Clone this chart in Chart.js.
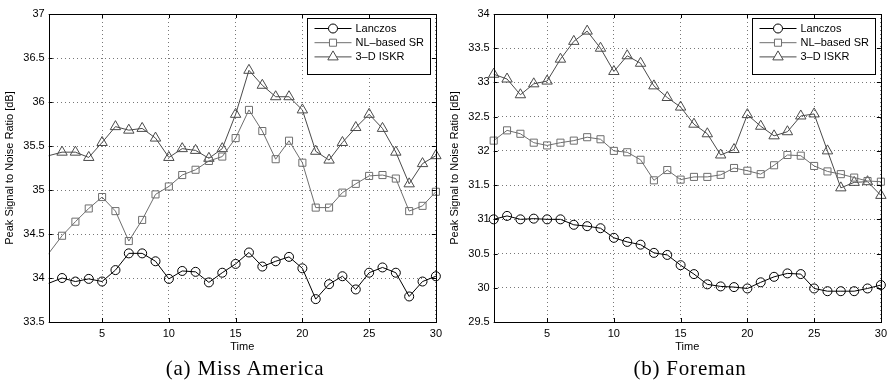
<!DOCTYPE html>
<html>
<head>
<meta charset="utf-8">
<title>PSNR over time</title>
<script src="https://cdn.jsdelivr.net/npm/chart.js@4/dist/chart.umd.min.js"></script>
<style>
  html, body { margin: 0; padding: 0; background: #fff; }
  body { width: 894px; height: 381px; position: relative; overflow: hidden; }
  canvas { position: absolute; top: 0; }
  .caption {
    position: absolute; top: 355px; height: 26px; line-height: 26px;
    text-align: center; font-family: "Liberation Serif", serif;
    font-size: 21px; letter-spacing: 0.8px; color: #000;
  }
</style>
</head>
<body>
<canvas id="chart-miss-america" width="447" height="358" style="left:0"></canvas>
<canvas id="chart-foreman" width="447" height="358" style="left:445px"></canvas>
<div class="caption" style="left:0;width:490px">(a) Miss America</div>
<div class="caption" style="left:490px;width:400px">(b) Foreman</div>

<script>
// x values (frame index)
const timeA = [0, 2, 3, 4, 5, 6, 7, 8, 9, 10, 11, 12, 13, 14, 15, 16, 17, 18, 19, 20, 21, 22, 23, 24, 25, 26, 27, 28, 29, 30];
const timeB = [1, 2, 3, 4, 5, 6, 7, 8, 9, 10, 11, 12, 13, 14, 15, 16, 17, 18, 19, 20, 21, 22, 23, 24, 25, 26, 27, 28, 29, 30];

const xTicks = [5, 10, 15, 20, 25, 30];
const yTicksA = [33.5, 34, 34.5, 35, 35.5, 36, 36.5, 37];
const yTicksB = [29.5, 30, 30.5, 31, 31.5, 32, 32.5, 33, 33.5, 34];

const seriesLabels = ['Lanczos', 'NL\u2013based SR', '3\u2013D ISKR'];

// (a) Miss America
const lanczosA = [33.88, 34.00, 33.96, 33.99, 33.96, 34.09, 34.28, 34.28, 34.19, 33.99, 34.08, 34.07, 33.95, 34.06, 34.16,
  34.29, 34.13, 34.19, 34.24, 34.11, 33.76, 33.93, 34.02, 33.87, 34.06, 34.12, 34.06, 33.79, 33.96, 34.02];
const nlA = [34.08, 34.48, 34.64, 34.79, 34.92, 34.76, 34.42, 34.66, 34.95, 35.04, 35.17, 35.23, 35.33, 35.38, 35.59,
  35.91, 35.67, 35.35, 35.56, 35.31, 34.80, 34.80, 34.97, 35.07, 35.16, 35.17, 35.13, 34.76, 34.82, 34.98];
const iskrA = [35.35, 35.43, 35.43, 35.37, 35.54, 35.72, 35.68, 35.70, 35.59, 35.37, 35.47, 35.45, 35.36, 35.47, 35.86,
  36.36, 36.19, 36.06, 36.06, 35.91, 35.44, 35.34, 35.54, 35.71, 35.86, 35.70, 35.43, 35.07, 35.30, 35.39];

// (b) Foreman
const lanczosB = [31.00, 31.05, 31.00, 31.01, 31.00, 31.00, 30.92, 30.90, 30.87, 30.73, 30.67, 30.63, 30.51, 30.48, 30.33,
  30.20, 30.05, 30.02, 30.01, 29.99, 30.08, 30.16, 30.21, 30.20, 29.99, 29.95, 29.95, 29.95, 29.99, 30.04];
const nlB = [32.15, 32.30, 32.25, 32.12, 32.08, 32.12, 32.15, 32.20, 32.17, 32.00, 31.98, 31.87, 31.57, 31.72, 31.58,
  31.62, 31.62, 31.65, 31.75, 31.71, 31.66, 31.79, 31.94, 31.93, 31.78, 31.70, 31.66, 31.61, 31.56, 31.55];
const iskrB = [33.12, 33.05, 32.82, 32.98, 33.02, 33.34, 33.60, 33.75, 33.50, 33.16, 33.39, 33.28, 32.95, 32.78, 32.64,
  32.39, 32.25, 31.94, 32.02, 32.53, 32.36, 32.22, 32.28, 32.51, 32.54, 32.00, 31.46, 31.54, 31.55, 31.35];

const FONT = '"Liberation Sans", Arial, sans-serif';
const styles = [
  { color: '#000000', pointStyle: 'circle', radius: 4.5 },
  { color: '#6e6e6e', pointStyle: 'rect', radius: 5 },
  { color: '#4a4a4a', pointStyle: 'triangle', radius: 6 },
];

function toPoints(xs, ys) {
  return xs.map((x, i) => ({ x, y: ys[i] }));
}

// box around the axes, inward ticks and legend in the upper-right corner
const frameLegend = {
  id: 'frameLegend',
  afterDraw(chart) {
    const { ctx, chartArea: a, scales } = chart;
    const line = (x1, y1, x2, y2) => { ctx.beginPath(); ctx.moveTo(x1, y1); ctx.lineTo(x2, y2); ctx.stroke(); };
    ctx.save();
    ctx.strokeStyle = '#000';
    ctx.lineWidth = 1;
    xTicks.forEach((v) => {
      const px = Math.round(scales.x.getPixelForValue(v)) + 0.5;
      line(px, a.bottom, px, a.bottom - 4);
      line(px, a.top, px, a.top + 4);
    });
    scales.y.ticks.forEach((t) => {
      const py = Math.round(scales.y.getPixelForValue(t.value)) + 0.5;
      line(a.left, py, a.left + 4, py);
      line(a.right, py, a.right - 4, py);
    });
    ctx.strokeRect(Math.round(a.left) + 0.5, Math.round(a.top) + 0.5,
      Math.round(a.right - a.left), Math.round(a.bottom - a.top));

    const w = 123, h = 56;
    const bx = Math.round(a.right - 6 - w) + 0.5;
    const by = Math.round(a.top + 4) + 0.5;
    ctx.fillStyle = '#fff';
    ctx.fillRect(bx, by, w, h);
    ctx.strokeRect(bx, by, w, h);
    ctx.font = '11px ' + FONT;
    ctx.textBaseline = 'middle';
    chart.data.datasets.forEach((ds, i) => {
      const y = by + 10 + i * 14.2;
      ctx.strokeStyle = ds.borderColor;
      line(bx + 7, y, bx + 44, y);
      ctx.fillStyle = '#fff';
      Chart.helpers.drawPoint(ctx, { pointStyle: ds.pointStyle, radius: ds.pointRadius, rotation: 0, borderWidth: 1 }, bx + 25.5, y);
      ctx.fillStyle = '#000';
      ctx.fillText(ds.label, bx + 48, y + 0.5);
    });
    ctx.restore();
  },
};

function makeChart(canvasId, xs, seriesValues, yTicks, clip) {
  const datasets = seriesValues.map((vals, i) => ({
    label: seriesLabels[i],
    data: toPoints(xs, vals),
    borderColor: styles[i].color,
    pointBorderColor: styles[i].color,
    pointBackgroundColor: 'rgba(0,0,0,0)',
    pointStyle: styles[i].pointStyle,
    pointRadius: styles[i].radius,
    pointBorderWidth: 1,
    borderWidth: 1,
    tension: 0,
    fill: false,
    clip,
  }));

  const gridOpts = { color: '#777', drawTicks: false, lineWidth: 1 };

  return new Chart(document.getElementById(canvasId), {
    type: 'line',
    data: { datasets },
    options: {
      responsive: false,
      animation: false,
      events: [],
      layout: { padding: { top: 14, right: 6.3, left: 0, bottom: 0 } },
      plugins: { legend: { display: false }, tooltip: { enabled: false } },
      scales: {
        x: {
          type: 'linear',
          min: 1,
          max: 30,
          afterBuildTicks: (s) => { s.ticks = xTicks.map((v) => ({ value: v })); },
          afterFit: (s) => { s.height = 36; },
          grid: gridOpts,
          border: { display: false, dash: [1, 3] },
          ticks: { color: '#000', font: { family: FONT, size: 11 }, padding: 5, maxRotation: 0 },
          title: { display: true, text: 'Time', color: '#000', font: { family: FONT, size: 11 }, padding: { top: 0, bottom: 4 } },
        },
        y: {
          min: yTicks[0],
          max: yTicks[yTicks.length - 1],
          afterBuildTicks: (s) => { s.ticks = yTicks.map((v) => ({ value: v })); },
          afterFit: (s) => { s.width = 48.7; },
          grid: gridOpts,
          border: { display: false, dash: [1, 3] },
          ticks: { color: '#000', font: { family: FONT, size: 11 }, padding: 4, callback: (v) => String(v) },
          title: { display: true, text: 'Peak Signal to Noise Ratio [dB]', color: '#000', font: { family: FONT, size: 11 }, padding: { top: 3, bottom: 0 } },
        },
      },
    },
    plugins: [frameLegend],
  });
}

makeChart('chart-miss-america', timeA, [lanczosA, nlA, iskrA], yTicksA, { left: 0, top: 10, right: 10, bottom: 10 });
makeChart('chart-foreman', timeB, [lanczosB, nlB, iskrB], yTicksB, 10);
</script>
</body>
</html>
